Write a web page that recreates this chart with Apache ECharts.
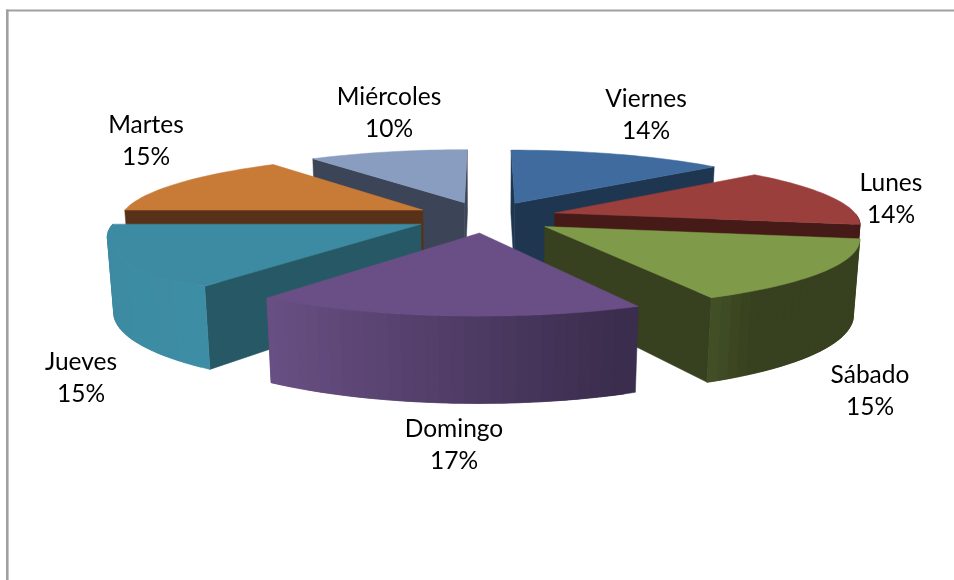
<!DOCTYPE html>
<html>
<head>
<meta charset="utf-8">
<script src="https://cdn.jsdelivr.net/npm/echarts@6/dist/echarts.min.js"></script>
<style>html,body{margin:0;padding:0;background:#fff}#c{width:954px;height:580px}</style>
</head>
<body>
<div id="c"></div>
<script>
const categories = ['Viernes', 'Lunes', 'Sábado', 'Domingo', 'Jueves', 'Martes', 'Miércoles'];
const values = [13.6, 14.2, 15, 17.2, 15, 15, 10];

const topColors = ['#3f6b9e', '#9b3f3c', '#7f9a48', '#694f85', '#3c8ba3', '#c87a37', '#889dc0'];
const sideColors = ['#1f3650', '#451a17', '#37411f', '#4a3a60', '#265866', '#583218', '#3c4557'];
const wallStops = [
  ['#1f3650', '#1f3650'], ['#451a17', '#451a17'], ['#475629', '#37411f', '#37411f', '#37411f'],
  ['#6a5085', '#3a2c4c'], ['#3c8ba3', '#3d8da5'], ['#583218', '#583218'], ['#3c4557', '#3c4557']
];
const labelAnchors = [[646, 115], [891, 199], [870, 391], [454, 445], [81, 378], [146, 141], [389, 113]];

const view = { cx: 486, cy: 217, radius: 303, explode: 72, tilt: 0.215, depth: 74, focal: 2000, focalZ: 4500 };
const total = values.reduce((a, b) => a + b, 0);

function project(x, y, z) {
  const s = 1 / (1 - y / view.focal + z / view.focalZ);
  return [view.cx + x * s, view.cy + (y * view.tilt + z) * s];
}
function polar(ox, oy, deg, r) {
  const a = deg * Math.PI / 180;
  return [ox + r * Math.sin(a), oy - r * Math.cos(a)];
}
function area(p) {
  let t = 0;
  for (let i = 0; i < p.length; i++) {
    const q = p[(i + 1) % p.length];
    t += p[i][0] * q[1] - q[0] * p[i][1];
  }
  return t;
}

function renderItem(params, api) {
  const i = params.dataIndex;
  const value = api.value(1);
  let before = 0;
  for (let k = 0; k < i; k++) before += values[k];
  const a0 = before / total * 360;
  const a1 = (before + value) / total * 360;
  const mid = (a0 + a1) / 2;
  const [ox, oy] = polar(0, 0, mid, view.explode);
  const zBase = Math.round(oy) + 1000;

  const arc = [];
  for (let a = a0; ; a += 2) {
    const d = Math.min(a, a1);
    arc.push(polar(ox, oy, d, view.radius));
    if (d >= a1) break;
  }
  const up = p => project(p[0], p[1], 0);
  const dn = p => project(p[0], p[1], view.depth);
  const apex = [ox, oy];
  const children = [];
  const poly = (points, fill, z2) => children.push({
    type: 'polygon', z2: zBase * 10 + z2,
    shape: { points },
    style: { fill, stroke: fill, lineWidth: 0.5 }
  });

  // radial walls, culled by screen orientation
  const first = arc[0], last = arc[arc.length - 1];
  const w0 = [up(apex), up(first), dn(first), dn(apex)];
  const w1 = [up(last), up(apex), dn(apex), dn(last)];
  if (area(w0) < 0) poly(w0, sideColors[i], 1);
  if (area(w1) < 0) poly(w1, sideColors[i], 1);

  // outer wall: the forward-facing part of the arc; each band overlaps the next one
  const front = arc.filter(p => p[1] >= oy - 1);
  if (front.length > 1) {
    const xs = front.map(p => up(p)[0]);
    const xMin = Math.min.apply(null, xs), xMax = Math.max.apply(null, xs);
    const last2 = front.length - 1;
    for (let k = 0; k < last2; k++) {
      const t = ((xs[k] + xs[k + 1]) / 2 - xMin) / (xMax - xMin);
      const band = echarts.color.lerp(t, wallStops[i]);
      const endA = front[Math.min(k + 2, last2)];
      const midA = front[k + 1];
      const pts = [up(front[k]), up(midA), up(endA), dn(endA), dn(midA), dn(front[k])];
      // paint from the silhouette inward so the overlap is always covered afterwards
      const order = xs[0] < xs[last2] ? k : last2 - k;
      poly(pts, band, 2 + order / 1000);
    }
  }
  // top face
  poly([up(apex)].concat(arc.map(up)), topColors[i], 3);

  // label
  const pct = Math.round(value / total * 100) + '%';
  children.push({
    type: 'text', z2: 100000,
    style: {
      text: categories[i] + '\n' + pct,
      x: labelAnchors[i][0], y: labelAnchors[i][1],
      textAlign: 'center', textVerticalAlign: 'middle',
      font: '24.5px Lato', lineHeight: 32, fill: '#000'
    }
  });
  return { type: 'group', children };
}

const chart = echarts.init(document.getElementById('c'), null, { renderer: 'canvas' });
chart.setOption({
  animation: false,
  backgroundColor: '#ffffff',
  graphic: [
    { type: 'rect', shape: { x: 6, y: 9.5, width: 948, height: 2 }, style: { fill: '#a0a0a0' } },
    { type: 'rect', shape: { x: 6, y: 9.5, width: 2.6, height: 571 }, style: { fill: '#a0a0a0' } }
  ],
  series: [{
    type: 'custom',
    coordinateSystem: 'none',
    renderItem,
    data: categories.map((c, i) => ({ name: c, value: [i, values[i]] }))
  }]
});
</script>
</body>
</html>
